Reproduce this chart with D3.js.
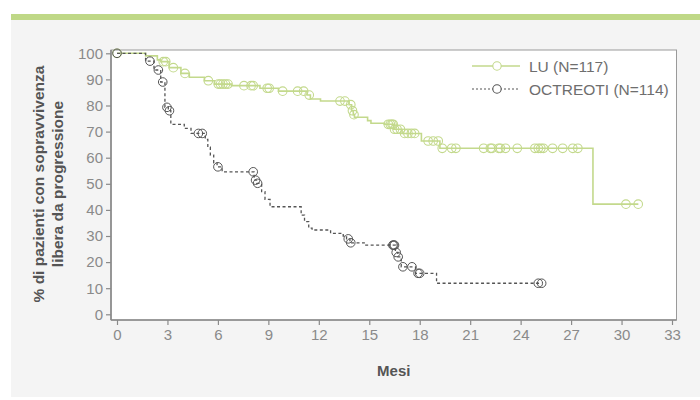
<!DOCTYPE html>
<html><head><meta charset="utf-8">
<script src="https://cdn.jsdelivr.net/npm/d3@7"></script>
<style>
html,body{margin:0;padding:0;background:#fff;}
svg{display:block;}
text{font-family:"Liberation Sans","Helvetica Neue",Arial,sans-serif;}
</style></head>
<body>
<svg id="chart" width="700" height="400"></svg>
<script>
// ---- data ----
const xTicks = [0,3,6,9,12,15,18,21,24,27,30,33];
const yTicks = [0,10,20,30,40,50,60,70,80,90,100];
const seriesNames = ["LU (N=117)", "OCTREOTI (N=114)"];
// step points [month, % after step]
const luSteps = [[0,100],[1.7,99],[2.4,97.5],[2.6,96.8],[3.1,94.5],[3.8,92.3],[4.3,90.8],[5.2,89.5],[5.8,88.2],[6.8,87.6],[8.5,86.6],[9.6,85.5],[11.3,84],[11.5,82.5],[12.1,81.7],[13.8,80.3],[13.95,78],[14.05,76.5],[14.12,75.5],[14.9,74.2],[15.1,73.2],[15.9,72.8],[16.46,70.9],[16.95,69.3],[18.1,66.4],[19.2,63.6],[28.3,42.2],[31.0,42.2]];
const luCensored = [[0,100],[2.75,96.8],[2.9,96.8],[3.35,94.5],[4.04,92.3],[5.43,89.5],[6.02,88.2],[6.15,88.2],[6.3,88.2],[6.45,88.2],[6.6,88.2],[7.55,87.6],[7.97,87.6],[8.1,87.6],[8.93,86.6],[9.05,86.6],[9.85,85.5],[10.74,85.5],[11.1,85.5],[11.43,84],[13.26,81.7],[13.55,81.7],[13.9,80.3],[14.0,78],[14.09,76.5],[16.13,72.8],[16.25,72.8],[16.35,72.8],[16.42,72.8],[16.5,70.9],[16.65,70.9],[16.85,70.9],[17.1,69.3],[17.3,69.3],[17.5,69.3],[17.7,69.3],[18.5,66.4],[18.8,66.4],[19.1,66.4],[19.34,63.6],[19.9,63.6],[20.15,63.6],[21.8,63.6],[22.2,63.6],[22.3,63.6],[22.7,63.6],[22.8,63.6],[23.1,63.6],[23.8,63.6],[24.85,63.6],[25.05,63.6],[25.2,63.6],[25.35,63.6],[25.9,63.6],[26.5,63.6],[27.1,63.6],[27.4,63.6],[30.26,42.2],[30.99,42.2]];
const octSteps = [[0,100],[1.7,97],[2.2,93.6],[2.6,89],[2.85,79.3],[3.05,78],[3.2,72.8],[4.0,71.2],[4.4,69.3],[5.25,67],[5.4,64],[5.55,61],[5.75,58],[5.95,56.5],[6.25,54.6],[8.15,51.4],[8.3,50.2],[8.6,47],[8.8,44],[9.1,41.2],[10.95,38],[11.15,35.5],[11.4,33],[11.6,32.3],[12.7,31],[13.45,30],[13.65,28.9],[13.85,27.4],[14.7,26.5],[16.55,23.7],[16.7,22],[16.9,18.2],[17.75,15.7],[19.0,11.9],[25.25,11.9]];
const octCensored = [[0,100],[1.96,97],[2.46,93.6],[2.72,89],[2.97,79.3],[3.12,78],[4.84,69.3],[5.07,69.3],[6.0,56.5],[8.1,54.6],[8.24,51.4],[8.36,50.2],[13.75,28.9],[13.9,27.4],[16.4,26.5],[16.45,26.5],[16.5,26.5],[16.6,23.7],[16.72,22],[17.0,18.2],[17.54,18.2],[17.9,15.7],[18.0,15.7],[25.05,11.9],[25.25,11.9]];

// ---- layout ----
const svg = d3.select("#chart");
const green = "#c3d98c", dark = "#555", axisCol = "#8a8a8a", tickText = "#8a8a8a";
const lightFont = "Roboto,'Liberation Sans',Arial,sans-serif";
svg.append("rect").attr("x",11).attr("y",14).attr("width",689).attr("height",6).attr("fill","#bfd887");
svg.append("rect").attr("x",11).attr("y",20).attr("width",689).attr("height",377).attr("fill","#f4f4f4");

const box = {l:111, r:676.5, t:50, b:320};
svg.append("rect").attr("x",box.l).attr("y",box.t).attr("width",box.r-box.l).attr("height",box.b-box.t)
  .attr("fill","#fff").attr("stroke","#9a9a9a").attr("stroke-width",1);

const x = d3.scaleLinear().domain([0,33]).range([117,672]);
const y = d3.scaleLinear().domain([0,100]).range([314.3,53.3]);

// axes
const xAxis = svg.append("g").attr("transform",`translate(0,${box.b})`)
  .call(d3.axisBottom(x).tickValues(xTicks).tickSize(5).tickPadding(4));
xAxis.select(".domain").attr("d",`M${box.l},0H${box.r}`).attr("stroke",axisCol).attr("stroke-width",1.6);
const yAxis = svg.append("g").attr("transform",`translate(${box.l},0)`)
  .call(d3.axisLeft(y).tickValues(yTicks).tickSize(5).tickPadding(3));
yAxis.select(".domain").attr("d",`M0,${box.t}V${box.b}`).attr("stroke",axisCol).attr("stroke-width",1.6);
svg.selectAll(".tick line").attr("stroke",axisCol).attr("stroke-width",1.2);
svg.selectAll(".tick text").attr("fill",tickText).attr("font-size",15)
  .attr("font-family",lightFont).attr("font-weight",300);

// curves
const line = d3.line().x(d=>x(d[0])).y(d=>y(d[1])).curve(d3.curveStepAfter);
const plot = svg.append("g");
plot.append("path").datum(luSteps).attr("d",line).attr("fill","none").attr("stroke",green).attr("stroke-width",1.6);
plot.selectAll("circle.lu").data(luCensored).join("circle").attr("class","lu")
  .attr("cx",d=>x(d[0])).attr("cy",d=>y(d[1])).attr("r",4.3)
  .attr("fill","none").attr("stroke",green).attr("stroke-width",1.1);
plot.append("path").datum(octSteps).attr("d",line).attr("fill","none").attr("stroke",dark)
  .attr("stroke-width",1.3).attr("stroke-dasharray","3,2.5");
plot.selectAll("circle.oc").data(octCensored).join("circle").attr("class","oc")
  .attr("cx",d=>x(d[0])).attr("cy",d=>y(d[1])).attr("r",4.3)
  .attr("fill","none").attr("stroke",dark).attr("stroke-width",1);

// legend
const leg = svg.append("g");
const legRows = [{name:seriesNames[0], c:green, dash:null, y:66},{name:seriesNames[1], c:dark, dash:"2,2", y:89}];
legRows.forEach(r=>{
  leg.append("line").attr("x1",472).attr("x2",520).attr("y1",r.y).attr("y2",r.y)
    .attr("stroke",r.c).attr("stroke-width",r.dash?1.2:1.5).attr("stroke-dasharray",r.dash);
  leg.append("circle").attr("cx",497).attr("cy",r.y).attr("r",4.2).attr("fill","#fff")
    .attr("stroke",r.c).attr("stroke-width",1.1);
  leg.append("text").attr("x",529).attr("y",r.y+5.5).attr("font-size",15.5).attr("font-family",lightFont)
    .attr("font-weight",300).attr("fill","#6e6e6e").text(r.name);
});

// axis titles
svg.append("text").attr("x",(box.l+box.r)/2).attr("y",376).attr("text-anchor","middle")
  .attr("font-size",15).attr("font-weight","bold").attr("fill","#555").text("Mesi");
const yl = svg.append("text").attr("transform","translate(0,184) rotate(-90)").attr("text-anchor","middle")
  .attr("font-size",15.5).attr("font-weight","bold").attr("fill","#555");
yl.append("tspan").attr("x",0).attr("y",44).text("% di pazienti con sopravvivenza");
yl.append("tspan").attr("x",0).attr("y",63).text("libera da progressione");
</script>
</body></html>
